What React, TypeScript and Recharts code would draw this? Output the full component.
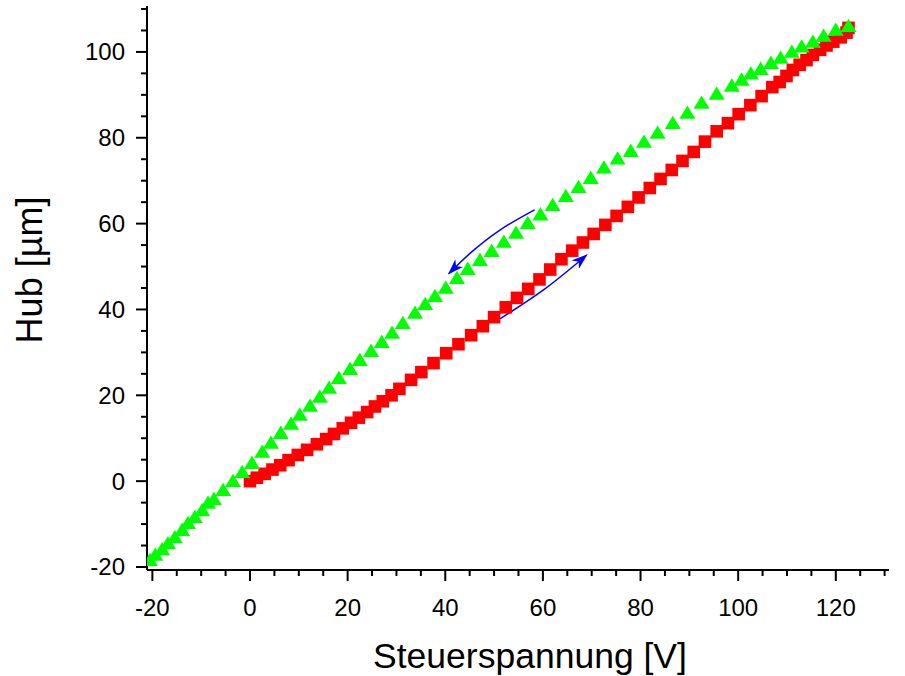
import React from 'react';
import { ComposedChart, Scatter, Line, XAxis, YAxis, Label } from 'recharts';

// rising branch (red squares)
const risingU = [0, 1.4, 3.0, 4.6, 6.2, 7.9, 9.8, 11.7, 13.7, 15.6, 17.2, 19.0, 20.7, 22.3, 24.0, 25.6, 27.2, 29.0, 30.6, 33.0, 35.1, 37.6, 40.2, 42.7, 45.3, 47.7, 50.0, 52.4, 54.7, 57.0, 59.3, 61.5, 63.8, 66.0, 68.2, 70.4, 72.8, 75.1, 77.4, 79.6, 81.9, 84.1, 86.4, 88.6, 90.9, 93.2, 95.6, 97.9, 100.1, 102.5, 104.8, 107.0, 108.5, 109.9, 111.2, 112.6, 114.0, 115.3, 116.8, 118.1, 119.5, 121.0, 122.2, 122.6];
const risingHub = [0, 0.8, 1.7, 2.7, 3.7, 4.9, 6.1, 7.3, 8.6, 9.8, 11.0, 12.3, 13.6, 14.8, 16.1, 17.4, 18.6, 20.0, 21.5, 23.6, 25.4, 27.5, 29.8, 31.9, 34.0, 36.1, 38.2, 40.5, 42.7, 44.8, 47.0, 49.3, 51.7, 53.7, 55.6, 57.6, 59.7, 61.8, 63.9, 66.1, 68.3, 70.4, 72.5, 74.6, 76.7, 79.1, 81.5, 83.4, 85.5, 87.6, 89.7, 91.8, 93.0, 94.4, 95.8, 97.0, 98.1, 99.3, 100.5, 101.5, 102.4, 103.4, 104.5, 105.6];

// falling branch (green triangles)
const fallingU = [122.6, 120.0, 117.5, 115.3, 113.0, 111.0, 108.7, 106.7, 104.6, 102.6, 100.7, 98.7, 95.6, 92.5, 89.6, 86.6, 83.5, 80.7, 78.0, 75.3, 72.5, 69.8, 67.3, 64.7, 62.0, 59.5, 56.9, 54.5, 52.0, 49.5, 47.1, 44.6, 42.4, 40.1, 37.9, 35.9, 33.8, 31.3, 29.1, 27.0, 24.8, 22.5, 20.5, 18.2, 16.2, 14.3, 12.3, 10.2, 8.4, 6.3, 4.3, 2.5, 0.4, -1.6, -3.5, -5.5, -7.4, -8.6, -9.8, -11.3, -12.7, -13.9, -15.4, -16.8, -18.0, -19.4, -20.5];
const fallingHub = [106.0, 105.1, 103.7, 102.3, 101.2, 100.0, 98.6, 97.4, 96.0, 94.9, 93.5, 92.1, 90.2, 88.1, 85.8, 83.4, 81.1, 79.0, 76.9, 75.1, 73.0, 70.6, 68.5, 66.4, 64.3, 62.1, 60.1, 57.8, 55.7, 53.6, 51.5, 49.4, 47.3, 45.0, 43.1, 41.2, 39.2, 36.8, 34.5, 32.4, 30.3, 28.2, 26.1, 24.0, 21.7, 19.6, 17.5, 15.4, 13.3, 11.2, 8.9, 6.8, 4.2, 2.1, 0, -2.1, -4.2, -5.1, -6.8, -8.4, -9.8, -11.4, -13.1, -14.5, -15.9, -17.2, -18.4];

// direction arrows (annotation paths, data coordinates)
const arrowBackU = [58.3, 51.2, 45.0, 40.7];
const arrowBackHub = [63.2, 58.5, 53.0, 48.3];
const arrowUpU = [51.2, 60.4, 69.0];
const arrowUpHub = [37.8, 44.8, 52.7];

const xTicks = [-20, -15, -10, -5, 0, 5, 10, 15, 20, 25, 30, 35, 40, 45, 50, 55, 60, 65, 70, 75, 80, 85, 90, 95, 100, 105, 110, 115, 120, 125, 130];
const yTicks = [-20, -15, -10, -5, 0, 5, 10, 15, 20, 25, 30, 35, 40, 45, 50, 55, 60, 65, 70, 75, 80, 85, 90, 95, 100, 105, 110];

const toPoints = (xs: number[], ys: number[]) => xs.map((x, i) => ({ x, y: ys[i] }));

const rising = toPoints(risingU, risingHub);
const falling = toPoints(fallingU, fallingHub);
const arrowBack = toPoints(arrowBackU, arrowBackHub);
const arrowUp = toPoints(arrowUpU, arrowUpHub);

const FONT = '"Liberation Sans", Arial, Helvetica, sans-serif';

const Square = (props: any) => {
  const { cx, cy } = props;
  return <rect x={cx - 6.3} y={cy - 6.3} width={12.6} height={12.6} fill="#ff0000" />;
};

const Triangle = (props: any) => {
  const { cx, cy } = props;
  return <polygon points={`${cx},${cy - 7.5} ${cx - 8},${cy + 5.8} ${cx + 8},${cy + 5.8}`} fill="#00ff00" />;
};

const XTick = (props: any) => {
  const { x, y, payload } = props;
  const v = payload.value;
  const major = v % 20 === 0;
  return (
    <g>
      <line x1={x} y1={y} x2={x} y2={y + (major ? 11 : 6)} stroke="#000" strokeWidth={2} />
      {major && (
        <text x={x} y={y + 46} textAnchor="middle" fontSize={24} fontFamily={FONT} fill="#000">
          {v}
        </text>
      )}
    </g>
  );
};

const YTick = (props: any) => {
  const { x, y, payload } = props;
  const v = payload.value;
  const major = v % 20 === 0;
  return (
    <g>
      <line x1={x} y1={y} x2={x - (major ? 11 : 6)} y2={y} stroke="#000" strokeWidth={2} />
      {major && (
        <text x={x - 22} y={y + 8.5} textAnchor="end" fontSize={24} fontFamily={FONT} fill="#000">
          {v}
        </text>
      )}
    </g>
  );
};

const App: React.FC = () => {
  return (
    <div style={{ position: 'absolute', left: 0, top: 0, background: '#fff' }}>
      <ComposedChart width={905} height={676} margin={{ top: 6, right: 16, bottom: 0, left: 0 }}>
        <defs>
          <marker id="blueHead" viewBox="0 0 16 11" refX={15} refY={5.5} markerWidth={16} markerHeight={11} markerUnits="userSpaceOnUse" orient="auto">
            <path d="M0,0 L16,5.5 L0,11 L4.5,5.5 Z" fill="#0000ff" />
          </marker>
        </defs>
        <XAxis
          type="number"
          dataKey="x"
          domain={[-21.1, 130.9]}
          allowDataOverflow
          ticks={xTicks}
          interval={0}
          height={106}
          tickSize={0}
          tickMargin={0}
          tickLine={false}
          axisLine={{ stroke: '#000', strokeWidth: 2 }}
          tick={<XTick />}
        >
          <Label
            content={() => (
              <text x={530} y={668} textAnchor="middle" fontSize={35.5} fontFamily={FONT} fill="#000">
                Steuerspannung [V]
              </text>
            )}
          />
        </XAxis>
        <YAxis
          type="number"
          dataKey="y"
          domain={[-20.7, 110.7]}
          allowDataOverflow
          ticks={yTicks}
          interval={0}
          width={147}
          tickSize={0}
          tickMargin={0}
          tickLine={false}
          axisLine={{ stroke: '#000', strokeWidth: 2 }}
          tick={<YTick />}
        >
          <Label
            content={() => (
              <text x={42} y={270} transform="rotate(-90 42 270)" textAnchor="middle" fontSize={36} fontFamily={FONT} fill="#000">
                Hub [µm]
              </text>
            )}
          />
        </YAxis>
        <Scatter data={rising} dataKey="y" shape={<Square />} isAnimationActive={false} />
        <Scatter data={falling} dataKey="y" shape={<Triangle />} isAnimationActive={false} />
        <Line data={arrowBack} dataKey="y" type="natural" stroke="#0000ff" strokeWidth={1.5} dot={false} activeDot={false} markerEnd="url(#blueHead)" isAnimationActive={false} />
        <Line data={arrowUp} dataKey="y" type="natural" stroke="#0000ff" strokeWidth={1.5} dot={false} activeDot={false} markerEnd="url(#blueHead)" isAnimationActive={false} />
      </ComposedChart>
    </div>
  );
};

export default App;
